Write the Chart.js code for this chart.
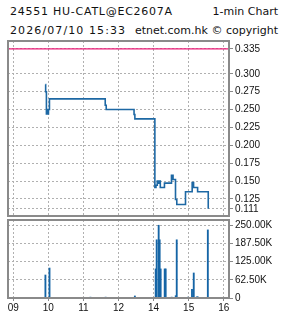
<!DOCTYPE html>
<html><head><meta charset="utf-8">
<script src="https://cdn.jsdelivr.net/npm/chart.js@4/dist/chart.umd.min.js"></script>
<style>
html,body{margin:0;padding:0;background:#fff;}
#wrap{position:relative;width:285px;height:318px;overflow:hidden;background:#fff;}
.t{position:absolute;font-family:"DejaVu Sans";font-size:11px;line-height:13px;color:#111;white-space:nowrap;}
canvas{position:absolute;left:0;}
</style></head><body>
<div id="wrap">
<div class="t" style="left:10px;top:5px;letter-spacing:0.75px">24551 HU-CATL@EC2607A</div>
<div class="t" style="right:7px;top:5px">1-min Chart</div>
<div class="t" style="left:10px;top:24px;letter-spacing:1.1px">2026/07/10 15:33</div>
<div class="t" style="right:7px;top:24px">etnet.com.hk © copyright</div>
<canvas id="c1" width="285" height="226" style="top:0;width:285px;height:226px"></canvas>
<canvas id="c2" width="285" height="108" style="top:210px;width:285px;height:108px"></canvas>
</div>
<script>
// x values are trading minutes from 09:00 (lunch hour 12:00-13:00 removed)
const hourPositions = [0, 60, 120, 180, 240, 300, 360];
const hourLabels = ['09', '10', '11', '12', '14', '15', '16'];
const xMin = -9, xMax = 369;

const priceTimes = [55, 55.4, 56.7, 57.6, 58.5, 60.2, 61.9, 157.3, 159, 206.6, 208, 242.2, 244.1, 246.3, 248.1, 249.3, 251.5, 258.6, 270.6, 273.3, 277.5, 279.7, 294.6, 306.0, 308.4, 315.3, 333.5];
const priceValues = [0.285, 0.275, 0.244, 0.250, 0.244, 0.250, 0.265, 0.256, 0.250, 0.243, 0.237, 0.141, 0.144, 0.150, 0.147, 0.150, 0.141, 0.147, 0.158, 0.152, 0.124, 0.117, 0.135, 0.148, 0.141, 0.135, 0.111];
const prevClose = 0.335;
const priceTicks = [0.111, 0.125, 0.150, 0.175, 0.200, 0.225, 0.250, 0.275, 0.300, 0.335];
const priceMin = 0.101, priceMax = 0.346;

const volTimes = [55, 62, 132, 158, 208, 243.6, 245.3, 248.7, 250.4, 252.1, 259, 260.7, 271, 277.9, 279.6, 298.5, 305.7, 307, 308.7, 314, 315.6, 332.8];
const volValues = [79000, 103000, 3000, 3000, 7000, 100000, 200000, 250000, 200000, 100000, 100000, 100000, 3000, 8000, 200000, 3000, 30000, 5000, 86000, 4000, 4000, 234000];
const volTicks = [0, 62500, 125000, 187500, 250000];
const volMax = 268000;

const gridColor = '#b0b0b0';
const gridDash = [2, 2];
const frameColor = '#8a8a8a';
const lineBlue = '#1d68a4';
const axisFont = {family: 'Liberation Sans', size: 10};

const frame = {id: 'frame', afterDatasetsDraw(chart) {
  const {ctx, chartArea: a} = chart;
  ctx.save(); ctx.strokeStyle = frameColor; ctx.lineWidth = 2;
  ctx.strokeRect(a.left, a.top, a.right - a.left, a.bottom - a.top);
  ctx.restore();
}};

Chart.defaults.animation = false;

new Chart(document.getElementById('c1'), {
  type: 'line',
  data: {datasets: [
    {data: priceTimes.map((t, i) => ({x: t, y: priceValues[i]})), borderColor: lineBlue, borderWidth: 1.6, stepped: true, pointRadius: 0, fill: false},
    {data: [{x: xMin, y: prevClose}, {x: xMax, y: prevClose}], borderColor: '#ec1c78', borderWidth: 1.2, pointRadius: 0, fill: false}
  ]},
  options: {
    responsive: false, animation: false,
    layout: {padding: {left: 8, top: 41, right: 0, bottom: 10}},
    plugins: {legend: {display: false}, tooltip: {enabled: false}},
    scales: {
      x: {type: 'linear', min: xMin, max: xMax, offset: false,
        afterBuildTicks: s => { s.ticks = hourPositions.map(v => ({value: v})); },
        afterFit: s => { s.height = 0; },
        ticks: {display: false},
        grid: {color: gridColor, lineWidth: 1, drawTicks: false, offset: false},
        border: {display: false, dash: gridDash}},
      y: {position: 'right', min: priceMin, max: priceMax,
        afterBuildTicks: s => { s.ticks = priceTicks.map(v => ({value: v})); },
        afterFit: s => { s.width = 56; },
        ticks: {autoSkip: false, padding: 2, color: '#111', font: axisFont, callback: v => Number(v).toFixed(3)},
        grid: {color: gridColor, lineWidth: 1, tickLength: 4, tickColor: frameColor, tickBorderDash: []},
        border: {display: false, dash: gridDash}}
    }
  },
  plugins: [frame]
});

new Chart(document.getElementById('c2'), {
  type: 'bar',
  data: {datasets: [
    {data: volTimes.map((t, i) => ({x: t, y: volValues[i]})), backgroundColor: '#1565a6', borderWidth: 0, barThickness: 1.2}
  ]},
  options: {
    responsive: false, animation: false,
    layout: {padding: {left: 8, top: 10, right: 0, bottom: 0}},
    plugins: {legend: {display: false}, tooltip: {enabled: false}},
    scales: {
      x: {type: 'linear', min: xMin, max: xMax, offset: false,
        afterBuildTicks: s => { s.ticks = hourPositions.map(v => ({value: v})); },
        afterFit: s => { s.height = 20; },
        ticks: {autoSkip: false, maxRotation: 0, padding: 1, color: '#111', font: axisFont,
          callback: v => hourLabels[hourPositions.indexOf(v)]},
        grid: {color: gridColor, lineWidth: 1, tickLength: 3, tickColor: frameColor, tickBorderDash: [], offset: false},
        border: {display: false, dash: gridDash}},
      y: {position: 'right', min: 0, max: volMax,
        afterBuildTicks: s => { s.ticks = volTicks.map(v => ({value: v})); },
        afterFit: s => { s.width = 56; },
        ticks: {autoSkip: false, padding: 2, color: '#111', font: axisFont,
          callback: v => v === 0 ? '0' : (v / 1000).toFixed(2) + 'K'},
        grid: {color: gridColor, lineWidth: 1, tickLength: 4, tickColor: frameColor, tickBorderDash: []},
        border: {display: false, dash: gridDash}}
    }
  },
  plugins: [frame]
});
</script>
</body></html>
